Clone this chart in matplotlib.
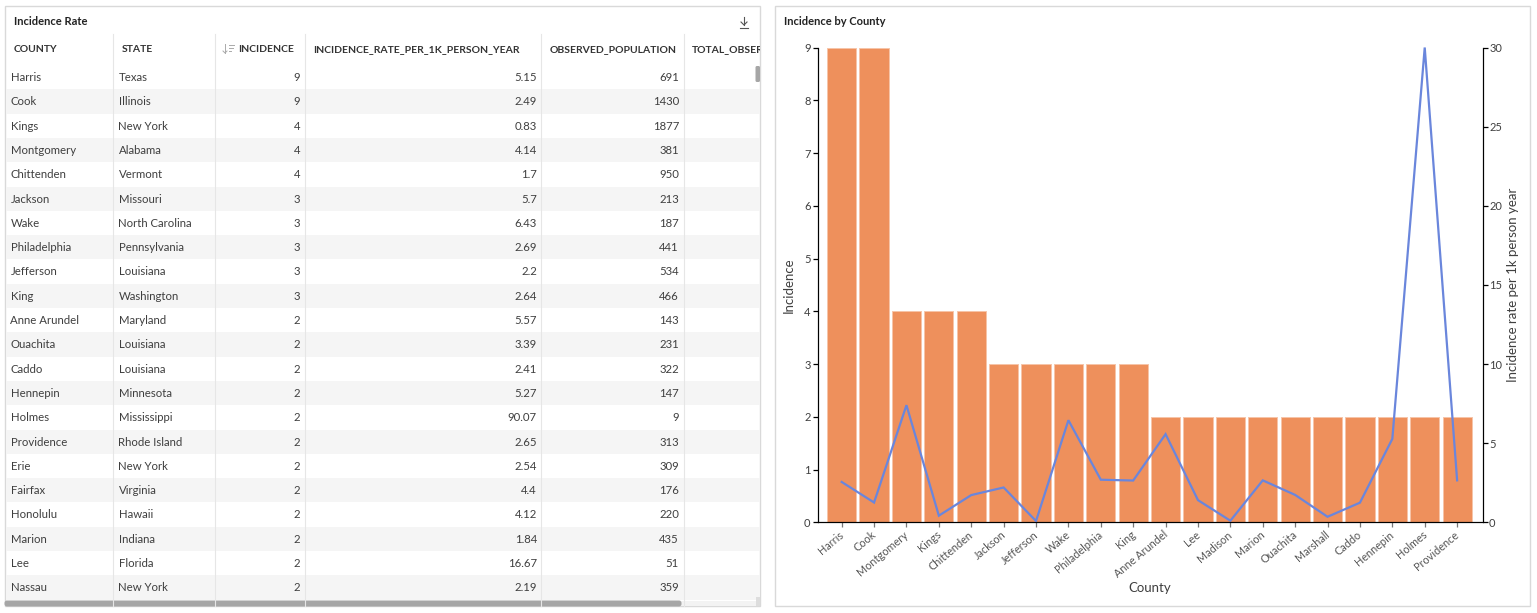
import matplotlib
matplotlib.use("Agg")
import matplotlib.pyplot as plt
from matplotlib.patches import Rectangle, FancyBboxPatch
from matplotlib.transforms import ScaledTranslation

plt.rcParams['font.family'] = ['Lato', 'DejaVu Sans']

# table columns
counties = ["Harris", "Cook", "Kings", "Montgomery", "Chittenden", "Jackson", "Wake", "Philadelphia",
            "Jefferson", "King", "Anne Arundel", "Ouachita", "Caddo", "Hennepin", "Holmes", "Providence",
            "Erie", "Fairfax", "Honolulu", "Marion", "Lee", "Nassau"]
states = ["Texas", "Illinois", "New York", "Alabama", "Vermont", "Missouri", "North Carolina", "Pennsylvania",
          "Louisiana", "Washington", "Maryland", "Louisiana", "Louisiana", "Minnesota", "Mississippi", "Rhode Island",
          "New York", "Virginia", "Hawaii", "Indiana", "Florida", "New York"]
incidence = [9, 9, 4, 4, 4, 3, 3, 3, 3, 3, 2, 2, 2, 2, 2, 2, 2, 2, 2, 2, 2, 2]
rates = ["5.15", "2.49", "0.83", "4.14", "1.7", "5.7", "6.43", "2.69", "2.2", "2.64", "5.57", "3.39",
         "2.41", "5.27", "90.07", "2.65", "2.54", "4.4", "4.12", "1.84", "16.67", "2.19"]
population = [691, 1430, 1877, 381, 950, 213, 187, 441, 534, 466, 143, 231, 322, 147, 9, 313, 309, 176, 220, 435, 51, 359]

# chart series
chart_counties = ["Harris", "Cook", "Montgomery", "Kings", "Chittenden", "Jackson", "Jefferson", "Wake",
                  "Philadelphia", "King", "Anne Arundel", "Lee", "Madison", "Marion", "Ouachita", "Marshall",
                  "Caddo", "Hennepin", "Holmes", "Providence"]
chart_incidence = [9, 9, 4, 4, 4, 3, 3, 3, 3, 3, 2, 2, 2, 2, 2, 2, 2, 2, 2, 2]
chart_rate = [2.55, 1.25, 7.4, 0.42, 1.72, 2.2, 0.08, 6.45, 2.69, 2.64, 5.57, 1.4, 0.1, 2.65, 1.73, 0.35,
              1.24, 5.27, 30, 2.65]

W, H = 1537, 613
TEXT = "#3f3f3f"
GRID = "#e6e6e6"
BORDER = "#d9d9d9"

fig = plt.figure(figsize=(W / 100, H / 100), dpi=100, facecolor="white")

# page layer in pixel coordinates, used for panels and the table
page = fig.add_axes([0, 0, 1, 1])
page.set_xlim(0, W)
page.set_ylim(H, 0)
page.axis("off")

page.add_patch(Rectangle((4.8, 6.2), 755.4, 600, fc="white", ec=BORDER, lw=1))
page.add_patch(Rectangle((774.8, 6.2), 755.4, 600, fc="white", ec=BORDER, lw=1))
page.text(14, 21.5, "Incidence Rate", fontsize=8, fontweight="bold", color="#222222", va="center")
page.text(783.5, 21.5, "Incidence by County", fontsize=8, fontweight="bold", color="#222222", va="center")

# table rows
row_top = 65
row_h = 24.3
for i in range(len(counties)):
    y0 = row_top + i * row_h
    if i % 2 == 1:
        page.add_patch(Rectangle((5.5, y0), 754, row_h, fc="#f5f5f5", ec="none"))
    yc = y0 + row_h / 2 + 0.4
    page.text(10.5, yc, counties[i], fontsize=8.2, color=TEXT, va="center")
    page.text(118.5, yc, states[i], fontsize=8.2, color=TEXT, va="center")
    page.text(300, yc, str(incidence[i]), fontsize=8.2, color=TEXT, va="center", ha="right")
    page.text(537, yc, rates[i], fontsize=8.2, color=TEXT, va="center", ha="right")
    page.text(679, yc, str(population[i]), fontsize=8.2, color=TEXT, va="center", ha="right")

for x in [112.8, 214.8, 304.8, 540.8, 683.8]:
    page.plot([x, x], [34, 606], color=GRID, lw=0.8)

# header
clip = Rectangle((6, 34), 753.5, 30, transform=page.transData)
headers = [(14, "COUNTY"), (122, "STATE"), (238, "INCIDENCE"), (313, "INCIDENCE_RATE_PER_1K_PERSON_YEAR"),
           (550, "OBSERVED_POPULATION"), (692, "TOTAL_OBSERVED")]
for x, label in headers:
    t = page.text(x, 49.5, label, fontsize=7.5, fontweight="bold", color="#333333", va="center", clip_on=True)
    t.set_clip_path(clip)

# sort icon next to INCIDENCE
page.plot([225, 225], [44, 53], color="#aaaaaa", lw=0.7)
page.plot([223, 225, 227], [51, 53, 51], color="#aaaaaa", lw=0.7)
for x1, yy in [(234, 44.5), (232.5, 47.5), (231, 50.5)]:
    page.plot([228.5, x1], [yy, yy], color="#aaaaaa", lw=0.7)

# download icon
page.plot([744, 744], [17, 25], color="#555555", lw=0.8)
page.plot([741, 744, 747], [22, 25, 22], color="#555555", lw=0.8)
page.plot([740, 748], [27.5, 27.5], color="#555555", lw=0.8)

# scrollbars
page.add_patch(Rectangle((5.5, 601), 750, 5, fc="#f3f3f3", ec="none"))
page.add_patch(FancyBboxPatch((4.5, 600.5), 677, 6, boxstyle="round,pad=0,rounding_size=2.5", fc="#a6a6a6", ec="none"))
page.add_patch(Rectangle((755.5, 597), 4.5, 9, fc="#dddddd", ec="none"))
page.add_patch(FancyBboxPatch((755.5, 66), 4.5, 16, boxstyle="round,pad=0,rounding_size=1.5", fc="#a6a6a6", ec="none"))

# chart
left, right, top, bottom = 817.7, 1482.7, 47.5, 522.3
ax = fig.add_axes([left / W, 1 - bottom / H, (right - left) / W, (bottom - top) / H])
ax.patch.set_alpha(0)
positions = list(range(len(chart_counties)))
ax.bar(positions, chart_incidence, width=0.9, color="#ee905c", edgecolor="#f6c4a8", linewidth=0.7)
ax.set_xlim(-0.74, 19.79)
ax.set_ylim(0, 9)
ax.set_yticks(range(0, 10))
ax.set_xticks(positions)
ax.set_xticklabels(chart_counties, rotation=40, ha="right", rotation_mode="anchor", fontsize=7.8, color="#555555")
ax.tick_params(axis="y", length=3.6, width=0.9, labelsize=8, labelcolor=TEXT, pad=1.5)
ax.tick_params(axis="x", length=3.6, width=0.9, color="#777777", pad=2)
# labels sit a little left of their ticks; has to come after tick_params, which resets the transform
nudge = ScaledTranslation(-3 / 100, 1 / 100, fig.dpi_scale_trans)
for lab in ax.get_xticklabels():
    lab.set_transform(lab.get_transform() + nudge)
ax.set_ylabel("Incidence", fontsize=9.5, color=TEXT, va="center")
ax.yaxis.set_label_coords((789 - left) / (right - left), 0.5)
ax.set_xlabel("County", fontsize=9.5, color=TEXT, va="center")
ax.xaxis.set_label_coords(0.5, (bottom - 588) / (bottom - top))
ax.spines["top"].set_visible(False)

ax2 = ax.twinx()
ax2.plot(positions, chart_rate, color="#6a86dc", lw=1.6, solid_joinstyle="miter", clip_on=False)
ax2.set_ylim(0, 30)
ax2.set_yticks(range(0, 31, 5))
ax2.tick_params(axis="y", length=3.6, width=0.9, labelsize=8, labelcolor=TEXT, pad=1)
ax2.set_ylabel("Incidence rate per 1k person year", fontsize=9.5, color=TEXT, va="center")
ax2.yaxis.set_label_coords((1513 - left) / (right - left), 0.5)
ax2.spines["top"].set_visible(False)

fig.savefig("out.png", dpi=100)
